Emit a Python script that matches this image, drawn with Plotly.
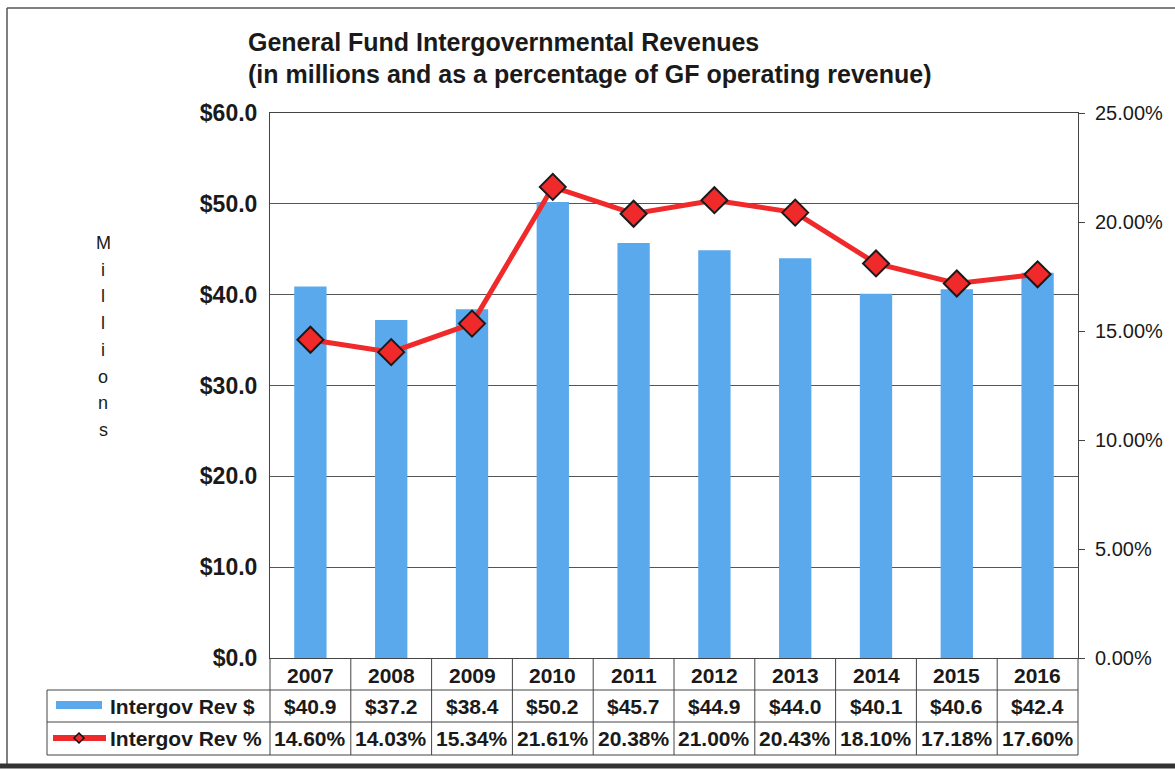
import plotly.graph_objects as go

years = ["2007", "2008", "2009", "2010", "2011", "2012", "2013", "2014", "2015", "2016"]
rev_millions = [40.9, 37.2, 38.4, 50.2, 45.7, 44.9, 44.0, 40.1, 40.6, 42.4]
rev_pct = [14.60, 14.03, 15.34, 21.61, 20.38, 21.00, 20.43, 18.10, 17.18, 17.60]
series_names = ["Intergov Rev $", "Intergov Rev %"]
title_lines = ["General Fund Intergovernmental Revenues",
               "(in millions and as a percentage of GF operating revenue)"]
y_label = "Millions"

W, H = 1175, 770
L, R, T, B = 270, 97, 113, 112
PW, PH = W - L - R, H - T - B
FONT = "Liberation Sans, Arial, sans-serif"
BLUE = "#5aa9ec"
RED = "#f02a2a"
TXT = "#1a1a1a"


def px(x):
    return (x - L) / PW


def py(y):
    return (H - B - y) / PH


fig = go.Figure()
fig.add_trace(go.Bar(x=years, y=rev_millions, name=series_names[0],
                     marker=dict(color=BLUE, line=dict(width=0)), width=0.4,
                     yaxis="y"))
fig.add_trace(go.Scatter(x=years, y=rev_pct, name=series_names[1], mode="lines+markers",
                         line=dict(color=RED, width=5),
                         marker=dict(symbol="diamond", size=20, color=RED,
                                     line=dict(color="#1a1a1a", width=2)),
                         yaxis="y2"))

shapes = []
annos = []
col_w = PW / len(years)
top_hdr, r1, r2, r3 = H - B, 690, 722, 755
tbl_left = 47
line_style = dict(color="#444444", width=1)
for yy in (r1, r2, r3):
    shapes.append(dict(type="line", xref="paper", yref="paper", x0=px(tbl_left), x1=px(L + PW),
                       y0=py(yy), y1=py(yy), line=line_style))
for k in range(len(years) + 1):
    xx = L + k * col_w
    shapes.append(dict(type="line", xref="paper", yref="paper", x0=px(xx), x1=px(xx),
                       y0=py(top_hdr), y1=py(r3), line=line_style))
shapes.append(dict(type="line", xref="paper", yref="paper", x0=px(tbl_left), x1=px(tbl_left),
                   y0=py(r1), y1=py(r3), line=line_style))

cell_font = dict(family=FONT, size=21, color=TXT, weight="bold")
for i, yr in enumerate(years):
    cx = px(L + (i + 0.5) * col_w)
    annos.append(dict(x=cx, y=py((top_hdr + r1) / 2 + 1), xref="paper", yref="paper", text=yr,
                      showarrow=False, font=cell_font, xanchor="center", yanchor="middle"))
    annos.append(dict(x=cx, y=py((r1 + r2) / 2), xref="paper", yref="paper",
                      text=f"${rev_millions[i]:.1f}", showarrow=False, font=cell_font,
                      xanchor="center", yanchor="middle"))
    annos.append(dict(x=cx, y=py((r2 + r3) / 2), xref="paper", yref="paper",
                      text=f"{rev_pct[i]:.2f}%", showarrow=False, font=cell_font,
                      xanchor="center", yanchor="middle"))

# legend keys in table
shapes.append(dict(type="line", xref="paper", yref="paper", x0=px(56), x1=px(102),
                   y0=py(705), y1=py(705), line=dict(color=BLUE, width=8)))
shapes.append(dict(type="line", xref="paper", yref="paper", x0=px(53), x1=px(106),
                   y0=py(738), y1=py(738), line=dict(color=RED, width=6)))
shapes.append(dict(type="path", xref="paper", yref="paper",
                   path=f"M {px(79)},{py(733)} L {px(84)},{py(738)} L {px(79)},{py(743)} L {px(74)},{py(738)} Z",
                   fillcolor=RED, line=dict(color="#111111", width=1.5)))
legend_font = dict(family=FONT, size=21, color=TXT, weight="bold")
annos.append(dict(x=px(108), y=py((r1 + r2) / 2), xref="paper", yref="paper",
                  text=series_names[0], showarrow=False, font=legend_font,
                  xanchor="left", yanchor="middle"))
annos.append(dict(x=px(108), y=py((r2 + r3) / 2), xref="paper", yref="paper",
                  text=series_names[1], showarrow=False, font=legend_font,
                  xanchor="left", yanchor="middle"))

# title
title_font = dict(family=FONT, size=25, color=TXT, weight="bold")
annos.append(dict(x=px(246), y=py(42), xref="paper", yref="paper",
                  text=title_lines[0], showarrow=False, font=title_font,
                  xanchor="left", yanchor="middle"))
annos.append(dict(x=px(246), y=py(74), xref="paper", yref="paper",
                  text=title_lines[1], showarrow=False, font=title_font,
                  xanchor="left", yanchor="middle"))

# vertical "Millions"
for j, ch in enumerate(y_label):
    annos.append(dict(x=px(103), y=py(243 + j * 26.7), xref="paper", yref="paper",
                      text=ch, showarrow=False,
                      font=dict(family=FONT, size=18, color=TXT),
                      xanchor="center", yanchor="middle"))

# outer frame
shapes.append(dict(type="line", xref="paper", yref="paper", x0=px(7), x1=px(7),
                   y0=py(8), y1=py(765), line=dict(color="#555555", width=1.5)))
shapes.append(dict(type="line", xref="paper", yref="paper", x0=px(7), x1=px(1175),
                   y0=py(8), y1=py(8), line=dict(color="#555555", width=1.5)))
shapes.append(dict(type="line", xref="paper", yref="paper", x0=px(0), x1=px(1175),
                   y0=py(766), y1=py(766), line=dict(color="#333333", width=5)))

fig.update_layout(
    width=W, height=H,
    margin=dict(l=L, r=R, t=T, b=B),
    paper_bgcolor="white", plot_bgcolor="white",
    showlegend=False,
    font=dict(family=FONT, color=TXT),
    xaxis=dict(type="category", range=[-0.5, len(years) - 0.5], showticklabels=False,
               showgrid=False, ticks="", showline=True, linecolor="#444444", linewidth=1,
               mirror=True, zeroline=False),
    yaxis=dict(range=[0, 60], dtick=10, tickprefix="$", tickformat=".1f",
               showgrid=True, gridcolor="#555555", gridwidth=1, zeroline=False,
               showline=True, linecolor="#444444", linewidth=1,
               tickfont=dict(family=FONT, size=23, color=TXT, weight="bold"),
               ticks="", ticklabelstandoff=7),
    yaxis2=dict(range=[0, 25], dtick=5, ticksuffix="%", tickformat=".2f",
                overlaying="y", side="right", showgrid=False, zeroline=False,
                showline=True, linecolor="#444444", linewidth=1,
                ticks="outside", ticklen=6, tickcolor="#444444",
                tickfont=dict(family=FONT, size=20, color=TXT),
                ticklabelstandoff=6),
    shapes=shapes,
    annotations=annos,
)

fig.write_html("out.html", config={"displayModeBar": False},
               post_script="document.body.style.margin='0';document.body.style.overflow='hidden';")
